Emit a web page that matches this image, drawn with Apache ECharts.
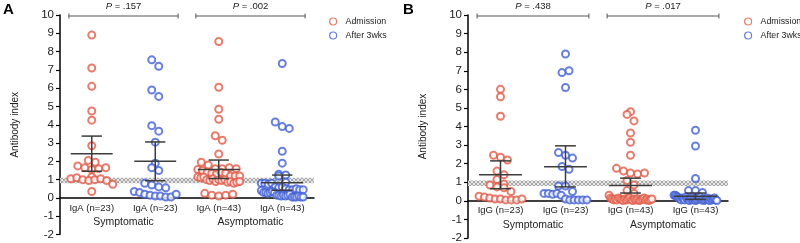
<!DOCTYPE html>
<html><head><meta charset="utf-8">
<script src="https://cdn.jsdelivr.net/npm/echarts@6/dist/echarts.min.js"></script>
<style>html,body{margin:0;padding:0;background:#fff}#c{width:800px;height:243px}</style>
</head><body><div id="c"></div>
<script>
// ---------- data ----------
const catsA = ['IgA (n=23)', 'IgA (n=23)', 'IgA (n=43)', 'IgA (n=43)'];
const catsB = ['IgG (n=23)', 'IgG (n=23)', 'IgG (n=43)', 'IgG (n=43)'];
const groups = ['Symptomatic', 'Asymptomatic'];
const seriesNames = ['Admission', 'After 3wks'];
const yMin = -2, yMax = 10, yStep = 1;
const bandLow = 0.8, bandHigh = 1.1;

const symAdmIgA = [8.9, 7.1, 6.1, 4.75, 4.25, 2.85, 2.05, 1.95, 1.75, 1.65, 1.55, 1.6, 1.65, 1.15, 1.05, 1.1, 1.0, 0.95, 1.0, 1.05, 0.95, 0.75, 0.35];
const symAftIgA = [7.55, 7.2, 5.9, 5.55, 3.95, 3.65, 3.05, 1.9, 1.65, 1.5, 0.8, 0.7, 0.6, 0.55, 0.35, 0.3, 0.2, 0.15, 0.1, 0.1, 0.05, 0.05, 0.2];
const asymAdmIgA = [8.55, 6.05, 4.85, 4.3, 3.4, 3.15, 2.4, 1.95, 1.8, 1.6, 1.6, 1.55, 1.65, 1.5, 1.6, 1.4, 1.35, 1.3, 1.4, 1.35, 1.2, 1.15, 1.2, 1.1, 1.15, 1.2, 1.0, 0.95, 1.05, 0.9, 1.0, 0.95, 1.0, 0.85, 0.9, 0.8, 0.85, 0.9, 0.25, 0.15, 0.1, 0.15, 0.2];
const asymAftIgA = [7.35, 4.15, 3.9, 3.8, 2.55, 1.9, 1.3, 1.25, 1.2, 0.8, 0.8, 0.75, 0.8, 0.85, 0.6, 0.55, 0.6, 0.5, 0.45, 0.45, 0.5, 0.4, 0.45, 0.45, 0.3, 0.3, 0.25, 0.3, 0.35, 0.3, 0.15, 0.15, 0.1, 0.15, 0.1, 0.15, 0.2, 0.05, 0.05, 0.05, 0.1, 0.05, 0.05];

const symAdmIgG = [6.0, 5.6, 4.55, 2.45, 2.35, 2.2, 1.6, 1.4, 1.15, 0.9, 0.85, 0.75, 0.7, 0.5, 0.25, 0.2, 0.15, 0.1, 0.1, 0.05, 0.05, 0.05, 0.1];
const symAftIgG = [7.9, 6.9, 7.0, 6.1, 2.6, 2.45, 2.3, 1.85, 1.7, 0.8, 0.8, 0.5, 0.4, 0.4, 0.35, 0.4, 0.3, 0.1, 0.05, 0.05, 0.05, 0.05, 0.05];
const asymAdmIgG = [4.8, 4.65, 4.3, 3.65, 3.15, 2.45, 1.75, 1.6, 1.5, 1.45, 1.5, 1.1, 0.85, 0.55, 0.4, 0.3,
  0.15, 0.1, 0.05, 0.1, 0.05, 0.15, 0.1, 0.05, 0.02, 0.1, 0.05, 0.1, 0.15, 0.05, 0.02, 0.1, 0.05, 0.1, 0.02, 0.05, 0.1, 0.15, 0.05, 0.1, 0.02, 0.05, 0.1];
const asymAftIgG = [3.8, 2.95, 1.2, 0.55, 0.55, 0.45, 0.3, 0.3, 0.25,
  0.2, 0.15, 0.1, 0.05, 0.15, 0.1, 0.05, 0.2, 0.1, 0.05, 0.02, 0.1, 0.15, 0.05, 0.1, 0.02, 0.05, 0.1, 0.15, 0.2, 0.05, 0.1, 0.02, 0.05, 0.1, 0.15, 0.05, 0.02, 0.1, 0.05, 0.1, 0.15, 0.05, 0.02];

// mean with 95% CI, per column
const meanA = [2.42, 2.0, 1.56, 0.83];
const lowA  = [1.46, 0.94, 1.06, 0.42];
const highA = [3.38, 3.06, 2.07, 1.25];
const meanB = [1.4, 1.84, 0.82, 0.25];
const lowB  = [0.65, 0.75, 0.42, 0.08];
const highB = [2.15, 2.96, 1.22, 0.42];

const pA = ['.157', '.002'];
const pB = ['.438', '.017'];

// ---------- styling ----------
const RED = '#e15b49', BLUE = '#4260d4';
const FONT = '"Liberation Sans", Arial, sans-serif';

function swarm(values, center, pxX, pxY) {
  const diam = 7, maxHalf = 0.33 * pxX;
  const order = values.map((v, i) => i).sort((a, b) => values[a] - values[b] || a - b);
  const rows = []; let cur = null;
  order.forEach(i => {
    const y = values[i] * pxY;
    if (cur && y - cur.y0 < diam) cur.items.push(i);
    else { cur = { y0: y, items: [i] }; rows.push(cur); }
  });
  const out = [];
  rows.forEach(r => {
    const items = r.items.slice().sort((a, b) => a - b);
    const n = items.length;
    const sp = n > 1 ? Math.min(diam, 2 * maxHalf / (n - 1)) : 0;
    items.forEach((i, j) => {
      const off = (j - (n - 1) / 2) * sp;
      out[i] = [center + off / pxX, values[i]];
    });
  });
  return out;
}

const hatch = document.createElement('canvas');
hatch.width = 4; hatch.height = 4;
(function () {
  const g = hatch.getContext('2d');
  g.fillStyle = '#e6e6e6'; g.fillRect(0, 0, 4, 4);
  g.strokeStyle = '#a8a8a8'; g.lineWidth = 1;
  g.beginPath(); g.moveTo(0, 0); g.lineTo(4, 4); g.moveTo(4, 0); g.lineTo(0, 4); g.stroke();
})();

function statsRender(params, api) {
  const x = api.value(0), m = api.value(1), lo = api.value(2), hi = api.value(3);
  const a = api.coord([x - 0.33, m]), b = api.coord([x + 0.33, m]);
  const l0 = api.coord([x - 0.16, lo]), l1 = api.coord([x + 0.16, lo]);
  const h0 = api.coord([x - 0.16, hi]), h1 = api.coord([x + 0.16, hi]);
  const st = { stroke: '#3c3c3c', lineWidth: 1.5 };
  return { type: 'group', children: [
    { type: 'line', shape: { x1: a[0], y1: a[1], x2: b[0], y2: b[1] }, style: st },
    { type: 'line', shape: { x1: (l0[0] + l1[0]) / 2, y1: l0[1], x2: (h0[0] + h1[0]) / 2, y2: h0[1] }, style: st },
    { type: 'line', shape: { x1: l0[0], y1: l0[1], x2: l1[0], y2: l1[1] }, style: st },
    { type: 'line', shape: { x1: h0[0], y1: h0[1], x2: h1[0], y2: h1[1] }, style: st }
  ]};
}

function bracketSeries(pvals, xIdx, yIdx) {
  const data = [[0.14, 1.86, yMax], [2.14, 3.86, yMax]];
  return {
    type: 'custom', xAxisIndex: xIdx, yAxisIndex: yIdx, silent: true, clip: false, z: 5,
    data: data,
    renderItem: function (params, api) {
      const p0 = api.coord([api.value(0), api.value(2)]);
      const p1 = api.coord([api.value(1), api.value(2)]);
      const y = p0[1] + 1;
      const st = { stroke: '#555', lineWidth: 1 };
      return { type: 'group', children: [
        { type: 'line', shape: { x1: p0[0], y1: y, x2: p1[0], y2: y }, style: st },
        { type: 'line', shape: { x1: p0[0], y1: y - 2.5, x2: p0[0], y2: y + 2.5 }, style: st },
        { type: 'line', shape: { x1: p1[0], y1: y - 2.5, x2: p1[0], y2: y + 2.5 }, style: st },
        { type: 'text', style: { x: (p0[0] + p1[0]) / 2, y: y - 5, text: '{i|P} = ' + pvals[params.dataIndex],
          align: 'center', verticalAlign: 'bottom', fill: '#222', font: '9.5px ' + FONT,
          rich: { i: { fontStyle: 'italic', fontSize: 9.5, fontFamily: FONT, fill: '#222' } } } }
      ]};
    }
  };
}

function panelAxes(gi, cats, gridH) {
  const off = -(0 - yMin) * gridH / (yMax - yMin);
  return [
    { type: 'category', gridIndex: gi, position: 'bottom', offset: off, data: cats, boundaryGap: true,
      axisLine: { onZero: false, lineStyle: { color: '#000', width: 1.5 } },
      axisTick: { show: false }, axisLabel: { margin: 5, fontSize: 9.5, color: '#222', interval: 0 }, splitLine: { show: false } },
    { type: 'category', gridIndex: gi, position: 'bottom', offset: off, data: groups, boundaryGap: true,
      axisLine: { show: false, onZero: false }, axisTick: { show: false },
      axisLabel: { margin: 19, fontSize: 10.5, color: '#222', interval: 0 }, splitLine: { show: false } },
    { type: 'value', gridIndex: gi, min: 0, max: 4, show: false }
  ];
}

function yAx(gi) {
  return { type: 'value', gridIndex: gi, min: yMin, max: yMax, interval: yStep,
    axisLine: { show: true, onZero: false, lineStyle: { color: '#000', width: 1.5 } },
    axisTick: { show: true, length: 4, lineStyle: { color: '#000', width: 1.2 } },
    axisLabel: { fontSize: 11.5, color: '#222', margin: 6 }, splitLine: { show: false },
    name: 'Antibody index', nameLocation: 'middle', nameGap: 40,
    nameTextStyle: { fontSize: 10, color: '#222' } };
}

function scatter(name, color, data, xIdx, yIdx, band) {
  const s = { type: 'scatter', name: name, xAxisIndex: xIdx, yAxisIndex: yIdx, data: data,
    symbol: 'emptyCircle', symbolSize: 7, itemStyle: { color: color, borderWidth: 1.2 }, z: 3, silent: true };
  if (band) {
    s.markArea = { silent: true, itemStyle: { color: { image: hatch, repeat: 'repeat' } },
      data: [[{ yAxis: bandLow }, { yAxis: bandHigh }]] };
  }
  return s;
}

function legendAt(left) {
  return { left: left, top: 16, padding: 0, orient: 'vertical', itemGap: 3, itemWidth: 7, itemHeight: 7,
    data: [
      { name: seriesNames[0], icon: 'circle', itemStyle: { color: '#fff', borderColor: RED, borderWidth: 1.2 } },
      { name: seriesNames[1], icon: 'circle', itemStyle: { color: '#fff', borderColor: BLUE, borderWidth: 1.2 } }
    ],
    textStyle: { fontSize: 8.8, lineHeight: 11, color: '#222', padding: [0, 0, 0, 4] } };
}

const pxAx = 63.5, pxAy = 18.27, pxBx = 65, pxBy = 18.6;
const hA = 219.5, hB = 223;

const option = {
  animation: false,
  textStyle: { fontFamily: FONT },
  grid: [
    { left: 60, top: 15, width: 254, height: hA, containLabel: false, outerBoundsMode: 'none' },
    { left: 468, top: 15, width: 260, height: hB, containLabel: false, outerBoundsMode: 'none' }
  ],
  xAxis: panelAxes(0, catsA, hA).concat(panelAxes(1, catsB, hB)),
  yAxis: [yAx(0), yAx(1)],
  legend: [legendAt(329), legendAt(744)],
  graphic: [
    { type: 'text', left: 3, top: 2, style: { text: 'A', font: 'bold 15px ' + FONT, fill: '#000' } },
    { type: 'text', left: 403, top: 2, style: { text: 'B', font: 'bold 15px ' + FONT, fill: '#000' } }
  ],
  series: [
    scatter(seriesNames[0], RED, swarm(symAdmIgA, 0.5, pxAx, pxAy).concat(swarm(asymAdmIgA, 2.5, pxAx, pxAy)), 2, 0, true),
    scatter(seriesNames[1], BLUE, swarm(symAftIgA, 1.5, pxAx, pxAy).concat(swarm(asymAftIgA, 3.5, pxAx, pxAy)), 2, 0, false),
    { type: 'custom', xAxisIndex: 2, yAxisIndex: 0, silent: true, z: 4, renderItem: statsRender,
      data: meanA.map((m, i) => [i + 0.5, m, lowA[i], highA[i]]) },
    bracketSeries(pA, 2, 0),
    scatter(seriesNames[0], RED, swarm(symAdmIgG, 0.5, pxBx, pxBy).concat(swarm(asymAdmIgG, 2.5, pxBx, pxBy)), 5, 1, true),
    scatter(seriesNames[1], BLUE, swarm(symAftIgG, 1.5, pxBx, pxBy).concat(swarm(asymAftIgG, 3.5, pxBx, pxBy)), 5, 1, false),
    { type: 'custom', xAxisIndex: 5, yAxisIndex: 1, silent: true, z: 4, renderItem: statsRender,
      data: meanB.map((m, i) => [i + 0.5, m, lowB[i], highB[i]]) },
    bracketSeries(pB, 5, 1)
  ]
};

const chart = echarts.init(document.getElementById('c'), null, { renderer: 'canvas' });
chart.setOption(option);
</script>
</body></html>
